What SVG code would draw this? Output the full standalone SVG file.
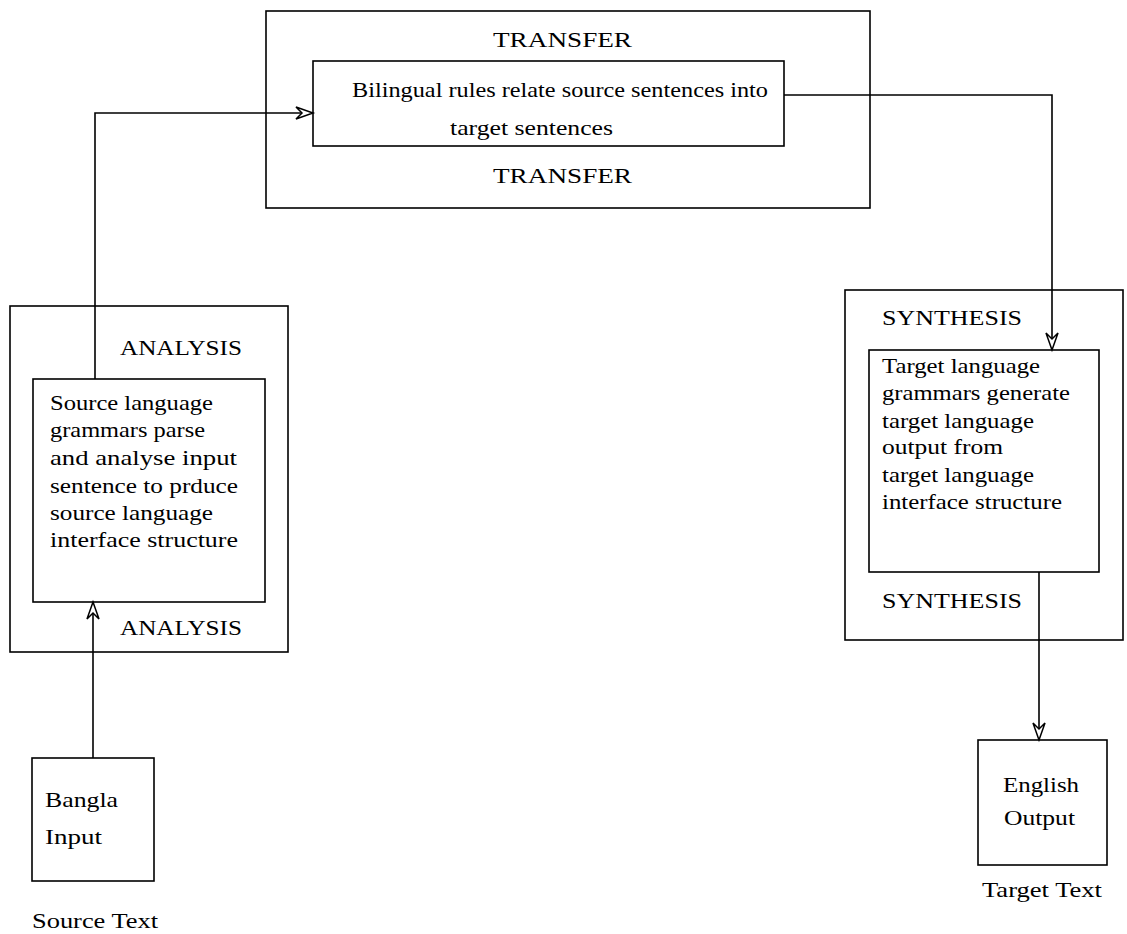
<svg xmlns="http://www.w3.org/2000/svg" width="1127" height="934" viewBox="0 0 1127 934">
  <style>
    .box { fill: none; stroke: #000; stroke-width: 1.6; }
    .wire { fill: none; stroke: #000; stroke-width: 1.6; }
    text { font-family: "Liberation Serif", "Times New Roman", serif; font-size: 21px; fill: #000; }
  </style>
  <defs>
    <marker id="head" markerUnits="userSpaceOnUse" viewBox="-18 -8 20 16" refX="0" refY="0" markerWidth="20" markerHeight="16" orient="auto" overflow="visible">
      <path d="M-17,-6 L0,0 L-17,6 L-11,0 Z" fill="#fff" stroke="#000" stroke-width="1.5" stroke-linejoin="miter"/>
    </marker>
  </defs>
  <rect width="1127" height="934" fill="#fff"/>

  <!-- transfer stage -->
  <g id="transfer">
    <rect class="box" x="266" y="11" width="604" height="197"/>
    <text x="493" y="47" textLength="139" lengthAdjust="spacingAndGlyphs">TRANSFER</text>
    <text x="493" y="183" textLength="139" lengthAdjust="spacingAndGlyphs">TRANSFER</text>
  </g>
  <g id="transfer-rules">
    <rect class="box" x="313" y="61" width="471" height="85"/>
    <text x="352" y="97" textLength="416" lengthAdjust="spacingAndGlyphs">Bilingual rules relate source sentences into</text>
    <text x="450" y="135" textLength="163" lengthAdjust="spacingAndGlyphs">target sentences</text>
  </g>

  <!-- analysis stage -->
  <g id="analysis">
    <rect class="box" x="10" y="306" width="278" height="346"/>
    <text x="120" y="355" textLength="122" lengthAdjust="spacingAndGlyphs">ANALYSIS</text>
    <text x="120" y="635" textLength="122" lengthAdjust="spacingAndGlyphs">ANALYSIS</text>
  </g>
  <g id="analysis-grammars">
    <rect class="box" x="33" y="379" width="232" height="223"/>
    <text x="50" y="410" textLength="163" lengthAdjust="spacingAndGlyphs">Source language</text>
    <text x="50" y="437" textLength="155" lengthAdjust="spacingAndGlyphs">grammars parse</text>
    <text x="50" y="465" textLength="187" lengthAdjust="spacingAndGlyphs">and analyse input</text>
    <text x="50" y="493" textLength="188" lengthAdjust="spacingAndGlyphs">sentence to prduce</text>
    <text x="50" y="520" textLength="163" lengthAdjust="spacingAndGlyphs">source language</text>
    <text x="50" y="547" textLength="188" lengthAdjust="spacingAndGlyphs">interface structure</text>
  </g>

  <!-- synthesis stage -->
  <g id="synthesis">
    <rect class="box" x="845" y="290" width="278" height="350"/>
    <text x="882" y="325" textLength="140" lengthAdjust="spacingAndGlyphs">SYNTHESIS</text>
    <text x="882" y="608" textLength="140" lengthAdjust="spacingAndGlyphs">SYNTHESIS</text>
  </g>
  <g id="synthesis-grammars">
    <rect class="box" x="869" y="350" width="230" height="222"/>
    <text x="882" y="373" textLength="158" lengthAdjust="spacingAndGlyphs">Target language</text>
    <text x="882" y="400" textLength="188" lengthAdjust="spacingAndGlyphs">grammars generate</text>
    <text x="882" y="428" textLength="152" lengthAdjust="spacingAndGlyphs">target language</text>
    <text x="882" y="454" textLength="121" lengthAdjust="spacingAndGlyphs">output from</text>
    <text x="882" y="482" textLength="152" lengthAdjust="spacingAndGlyphs">target language</text>
    <text x="882" y="509" textLength="180" lengthAdjust="spacingAndGlyphs">interface structure</text>
  </g>

  <!-- source and target texts -->
  <g id="bangla-input">
    <rect class="box" x="32" y="758" width="122" height="123"/>
    <text x="45" y="807" textLength="73" lengthAdjust="spacingAndGlyphs">Bangla</text>
    <text x="45" y="844" textLength="57" lengthAdjust="spacingAndGlyphs">Input</text>
    <text x="32" y="928" textLength="126" lengthAdjust="spacingAndGlyphs">Source Text</text>
  </g>
  <g id="english-output">
    <rect class="box" x="978" y="740" width="129" height="125"/>
    <text x="1003" y="792" textLength="76" lengthAdjust="spacingAndGlyphs">English</text>
    <text x="1004" y="825" textLength="71" lengthAdjust="spacingAndGlyphs">Output</text>
    <text x="982" y="897" textLength="120" lengthAdjust="spacingAndGlyphs">Target Text</text>
  </g>

  <!-- connectors -->
  <g id="connectors">
    <path class="wire" d="M95,379 V113 H313" marker-end="url(#head)"/>
    <path class="wire" d="M93,758 V602" marker-end="url(#head)"/>
    <path class="wire" d="M784,95 H1052 V350" marker-end="url(#head)"/>
    <path class="wire" d="M1039,572 V740" marker-end="url(#head)"/>
  </g>
</svg>
